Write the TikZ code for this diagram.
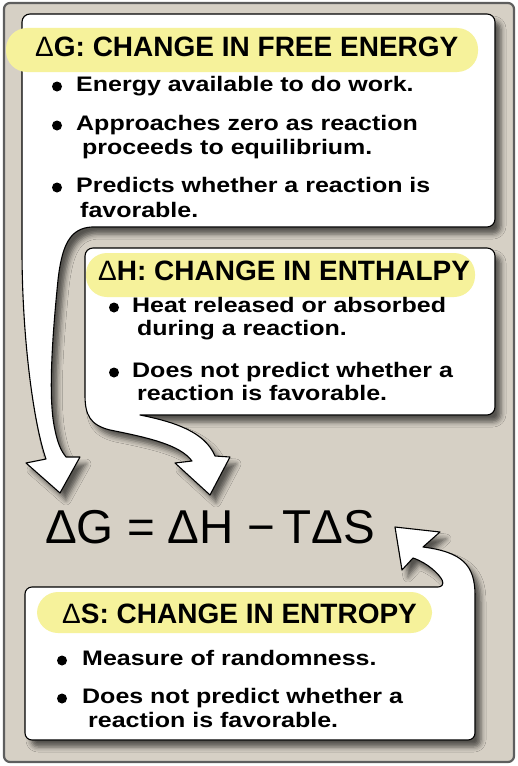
\documentclass[tikz,border=0pt]{standalone}
\usepackage{fontspec}
\setmainfont{Liberation Sans}
\newfontfamily\bulletfont{Liberation Sans}[FakeStretch=1.19]
\usepackage{xcolor}
\definecolor{cTan}{HTML}{D6D0C5}
\definecolor{cFrame}{HTML}{5E5E5E}
\definecolor{cMark}{HTML}{F6F29B}
\usetikzlibrary{shadows.blur}
\tikzset{
  callout/.style={draw=black,line width=1.1bp,fill=white,line join=round,
    blur shadow={shadow xshift=6bp,shadow yshift=-7bp,
      shadow blur radius=5bp,shadow opacity=60}},
  marker/.style={fill=cMark,rounded corners=21bp},
  head-text/.style={anchor=base west,inner sep=0pt,
    font=\fontsize{28bp}{30bp}\selectfont\bfseries},
  item-text/.style={anchor=base west,inner sep=0pt,
    font=\bulletfont\fontsize{21bp}{22bp}\selectfont\bfseries},
  eq-text/.style={anchor=base west,inner sep=0pt,
    font=\fontsize{47.5bp}{50bp}\selectfont},
}

\begin{document}
\begin{tikzpicture}[x=1bp,y=-1bp]
  \useasboundingbox (0,0) rectangle (518,766);
  % frame
  \draw[cFrame,line width=2.2bp,fill=cTan,rounded corners=6bp] (4,3) rectangle (514,762);

  % free energy box + arrow down to the equation
  \draw[callout] (22,250) [rounded corners=8bp] -- (22,14) -- (495,14) -- (495,227)
    [sharp corners] -- (92,227) .. controls (70,228) and (62,245) .. (58,280)
    .. controls (52,340) and (48,400) .. (55,430)
    .. controls (58,445) and (62,452) .. (66,457) -- (80,457) -- (60,493) -- (26,463) -- (46,459)
    .. controls (34,425) and (22,340) .. (22,250) -- cycle;

  % enthalpy box + arrow
  \draw[callout] (85,395) [rounded corners=8bp] -- (85,248) -- (495,248) -- (495,415)
    [sharp corners] -- (140,415) .. controls (175,422) and (205,432) .. (215,456)
    -- (230,457) -- (210,495) -- (175,463) -- (192,461)
    .. controls (180,445) and (150,438) .. (110,430)
    .. controls (90,425) and (85,415) .. (85,395) -- cycle;

  % entropy box + arrow up to T dS
  \draw[callout] (25,660) [rounded corners=7bp] -- (25,587) -- (445,587)
    [sharp corners] .. controls (440,575) and (428,563) .. (413,558)
    -- (402,570) -- (395,527) -- (440,532) -- (423,547)
    .. controls (462,552) and (475,565) .. (475,595)
    [rounded corners=7bp] -- (475,740) -- (25,740) -- cycle;

  % highlights
  \fill[marker] (6,28) rectangle (478,72);
  \fill[marker] (86,253) rectangle (475,297);
  \fill[marker] (37,592) rectangle (432,633);

  \node[head-text] (gHead) at (35,57) {\textmd{Δ}G: CHANGE IN FREE ENERGY};
  \fill (57,86.5) circle (5bp) (57,125.5) circle (5bp) (57,187.5) circle (5bp);
  \node[item-text] (gItemA) at (76,91) {Energy available to do work.};
  \node[item-text] (gItemB) at (76,130) {Approaches zero as reaction};
  \node[item-text] (gItemC) at (82,154) {proceeds to equilibrium.};
  \node[item-text] (gItemD) at (76,192) {Predicts whether a reaction is};
  \node[item-text] (gItemE) at (80,217) {favorable.};

  \node[head-text] (hHead) at (98,280) {\textmd{Δ}H: CHANGE IN ENTHALPY};
  \fill (114,307.5) circle (5bp) (114,372.5) circle (5bp);
  \node[item-text] (hItemA) at (132,312) {Heat released or absorbed};
  \node[item-text] (hItemB) at (137,335) {during a reaction.};
  \node[item-text] (hItemC) at (132,377) {Does not predict whether a};
  \node[item-text] (hItemD) at (137,400) {reaction is favorable.};

  \node[eq-text] (eq) at (45,543) {ΔG = ΔH −\,TΔS};

  \node[head-text] (sHead) at (62,623) {\textmd{Δ}S: CHANGE IN ENTROPY};
  \fill (62,660.5) circle (5bp) (62,698.5) circle (5bp);
  \node[item-text] (sItemA) at (82,665) {Measure of randomness.};
  \node[item-text] (sItemB) at (82,703) {Does not predict whether a};
  \node[item-text] (sItemC) at (88,727) {reaction is favorable.};
\end{tikzpicture}
\end{document}
